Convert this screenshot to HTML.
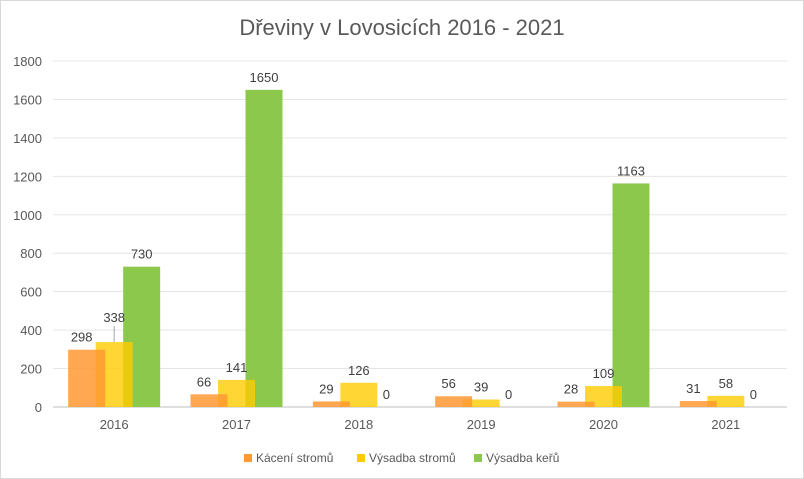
<!DOCTYPE html>
<html><head><meta charset="utf-8"><style>
body{margin:0;background:#fff;}
svg{display:block;font-family:"Liberation Sans",sans-serif;}
</style></head><body>
<svg id="c" width="804" height="479">
<rect x="0.5" y="0.5" width="803" height="478" fill="#fff" stroke="#d9d9d9"/>
<text x="402" y="35" text-anchor="middle" font-size="22" fill="#595959">Dřeviny v Lovosicích 2016 - 2021</text>
<g id="grid"></g><g id="bars"></g><g id="labels"></g>
<g>
<rect x="244" y="454" width="8" height="8" fill="#FF9933"/>
<text x="256" y="462" font-size="12" fill="#595959">Kácení stromů</text>
<rect x="357" y="454" width="8" height="8" fill="#FFCC00"/>
<text x="369" y="462" font-size="12" fill="#595959">Výsadba stromů</text>
<rect x="474" y="454" width="8" height="8" fill="#8CC84B"/>
<text x="486" y="462" font-size="12" fill="#595959">Výsadba keřů</text>
</g>
</svg>
<script>
const categories=["2016","2017","2018","2019","2020","2021"];
const kaceni=[298,66,29,56,28,31];
const vysadbaStromu=[338,141,126,39,109,58];
const vysadbaKeru=[730,1650,0,0,1163,0];
const yTicks=[0,200,400,600,800,1000,1200,1400,1600,1800];
const NS="http://www.w3.org/2000/svg";
const y0=407,y1=61,yMax=1800,xL=53,xR=787;
const step=(xR-xL)/categories.length;
function yS(v){return y0-(v/yMax)*(y0-y1);}
function xC(i){return xL+step*(i+0.5);}
function mk(tag,attrs,parent){const e=document.createElementNS(NS,tag);for(const k in attrs)e.setAttribute(k,attrs[k]);parent.appendChild(e);return e;}
const grid=document.getElementById('grid'),bars=document.getElementById('bars'),labels=document.getElementById('labels');
yTicks.forEach(t=>{
  const l=mk('line',{x1:xL,x2:xR,y1:yS(t),y2:yS(t),stroke:t===0?'#bfbfbf':'#e6e6e6','stroke-width':1},grid);
  
  
  const tx=mk('text',{x:42,y:yS(t)+5,'text-anchor':'end','font-size':13,fill:'#595959'},grid);
  tx.textContent=t;
  
  
});
categories.forEach((c,i)=>{
  const tx=mk('text',{x:xC(i),y:429,'text-anchor':'middle','font-size':13,fill:'#595959'},grid);
  tx.textContent=c;
  
  
});
const series=[
 {vals:vysadbaKeru,color:'#8CC84B',off:27.5,op:1,name:'vysadba-keru'},
 {vals:vysadbaStromu,color:'#FFCC00',off:0,op:0.8,name:'vysadba-stromu'},
 {vals:kaceni,color:'#FF9933',off:-27.5,op:0.85,name:'kaceni'}
];
const bw=37;
series.forEach(s=>{
  s.vals.forEach((v,i)=>{
    const cx=xC(i)+s.off;
    const r=mk('rect',{x:cx-bw/2,y:yS(v),width:bw,height:y0-yS(v),fill:s.color,'fill-opacity':s.op},bars);
    
    
    let ly=yS(v)-8;
    if(s.name==='vysadba-stromu'&&i===0){ly=yS(v)-20;
      const ln=mk('line',{x1:cx,x2:cx,y1:yS(v)-16,y2:yS(v),stroke:'#a6a6a6'},labels);
      
      }
    const t=mk('text',{x:cx-(s.name==='kaceni'?5:0),y:ly,'text-anchor':'middle','font-size':13,fill:'#404040'},labels);
    t.textContent=v;
    
    
  });
});
</script>
</body></html>
